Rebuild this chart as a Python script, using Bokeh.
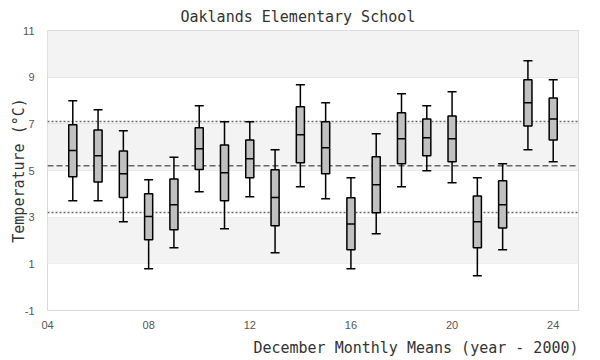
from bokeh.plotting import figure
from bokeh.models import FixedTicker, Span, BoxAnnotation, ColumnDataSource, Title
from bokeh.transform import dodge
from bokeh.embed import file_html
from bokeh.resources import INLINE

# ---- data ----
years = list(range(5, 25))
whisker_low = [3.70, 3.70, 2.80, 0.79, 1.69, 4.09, 2.50, 3.87, 1.47, 4.30,
               3.79, 0.79, 2.29, 4.30, 4.99, 4.47, 0.49, 1.60, 5.89, 5.37]
q1 = [4.73, 4.51, 3.84, 2.03, 2.46, 5.04, 3.70, 4.69, 2.63, 5.33,
      4.86, 1.60, 3.19, 5.29, 5.63, 5.37, 1.69, 2.54, 6.91, 6.31]
median = [5.86, 5.63, 4.86, 3.03, 3.53, 5.93, 4.90, 5.50, 3.84, 6.53,
          5.97, 2.71, 4.39, 6.36, 6.40, 6.36, 2.80, 3.53, 7.90, 7.21]
q3 = [6.96, 6.74, 5.84, 4.00, 4.64, 6.83, 6.09, 6.31, 5.03, 7.73,
      7.09, 3.83, 5.59, 7.47, 7.21, 7.34, 3.91, 4.56, 8.89, 8.11]
whisker_high = [7.99, 7.60, 6.70, 4.60, 5.57, 7.77, 7.09, 7.09, 5.89, 8.67,
                7.90, 4.69, 6.57, 8.29, 7.77, 8.37, 4.69, 5.29, 9.70, 8.89]

mean_level = 5.2
sd_lower = 3.2
sd_upper = 7.1

x_ticks = [4, 8, 12, 16, 20, 24]
x_tick_labels = ["04", "08", "12", "16", "20", "24"]
y_ticks = [-1, 1, 3, 5, 7, 9, 11]
y_tick_labels = ["-1", "1", "3", "5", "7", "9", "11"]
shaded_bands = [(1, 3), (5, 7), (9, 11)]

title_text = "Oaklands Elementary School"
x_title = "December Monthly Means (year - 2000)"
y_title = "Temperature (°C)"

# ---- styling constants ----
BOX_W = 0.32
MONO = "DejaVu Sans Mono"
SANS = "Liberation Sans"

src = ColumnDataSource(dict(x=years, lo=whisker_low, q1=q1, med=median,
                            q3=q3, hi=whisker_high))

p = figure(frame_width=531, frame_height=280, x_range=(4, 25), y_range=(-1, 11),
           output_backend="svg", toolbar_location=None,
           min_border_left=0, min_border_right=11, min_border_top=22,
           min_border_bottom=0, margin=(0, 0, 0, 7))

p.title.text = title_text
p.title.align = "left"
p.title.offset = 133
p.title.text_font = MONO
p.title.text_font_size = "15px"
p.title.text_font_style = "normal"
p.title.text_color = "#333333"

p.outline_line_color = "#d9d9d9"
p.background_fill_color = "white"
p.border_fill_color = "white"

for lo_b, hi_b in shaded_bands:
    p.add_layout(BoxAnnotation(bottom=lo_b, top=hi_b, fill_color="#f3f3f3",
                               fill_alpha=1, line_alpha=0, level="underlay"))

p.xgrid.grid_line_color = None
p.ygrid.ticker = FixedTicker(ticks=y_ticks)
p.ygrid.grid_line_color = "#e0e0e0"
p.ygrid.grid_line_width = 1

p.add_layout(Span(location=mean_level, dimension="width", line_color="#666666",
                  line_width=1.5, line_dash="6 3", level="underlay"))
for loc in (sd_lower, sd_upper):
    p.add_layout(Span(location=loc, dimension="width", line_color="#666666",
                      line_width=1.5, line_dash="2 2", level="underlay"))

# whiskers
p.segment(x0="x", y0="lo", x1="x", y1="q1", source=src, line_color="black", line_width=1.5)
p.segment(x0="x", y0="q3", x1="x", y1="hi", source=src, line_color="black", line_width=1.5)
p.scatter(x="x", y="lo", source=src, marker="dash", size=9, line_color="black", line_width=1.5)
p.scatter(x="x", y="hi", source=src, marker="dash", size=9, line_color="black", line_width=1.5)
# boxes
p.vbar(x="x", width=BOX_W, bottom="q1", top="q3", source=src,
       fill_color="#c0c0c0", line_color="black", line_width=1.5)
p.segment(x0=dodge("x", -BOX_W / 2, range=p.x_range), y0="med",
          x1=dodge("x", BOX_W / 2, range=p.x_range), y1="med",
          source=src, line_color="black", line_width=1.5)

# axes
for ax in (p.xaxis[0], p.yaxis[0]):
    ax.axis_line_color = None
    ax.major_tick_line_color = None
    ax.minor_tick_line_color = None
    ax.major_tick_out = 0
    ax.major_tick_in = 0
    ax.minor_tick_out = 0
    ax.minor_tick_in = 0
    ax.major_label_text_font = SANS
    ax.major_label_text_font_size = "11px"
    ax.major_label_text_color = "#555555"
    ax.axis_label_text_font = MONO
    ax.axis_label_text_font_size = "15px"
    ax.axis_label_text_font_style = "normal"
    ax.axis_label_text_color = "#333333"

p.xaxis.ticker = FixedTicker(ticks=x_ticks)
p.xaxis.major_label_overrides = dict(zip(x_ticks, x_tick_labels))
p.xaxis.major_label_standoff = 10

# x-axis title, right-aligned under the plot area
p.add_layout(Title(text=x_title, align="right", offset=0, vertical_align="bottom",
                   standoff=10, text_font=MONO, text_font_size="15px",
                   text_font_style="normal", text_color="#333333"), "below")

p.yaxis.ticker = FixedTicker(ticks=y_ticks)
p.yaxis.major_label_overrides = dict(zip(y_ticks, y_tick_labels))
p.yaxis.major_label_standoff = 13
p.yaxis.axis_label = y_title
p.yaxis.axis_label_standoff = -8

open("out.html", "w").write(file_html(p, INLINE))
